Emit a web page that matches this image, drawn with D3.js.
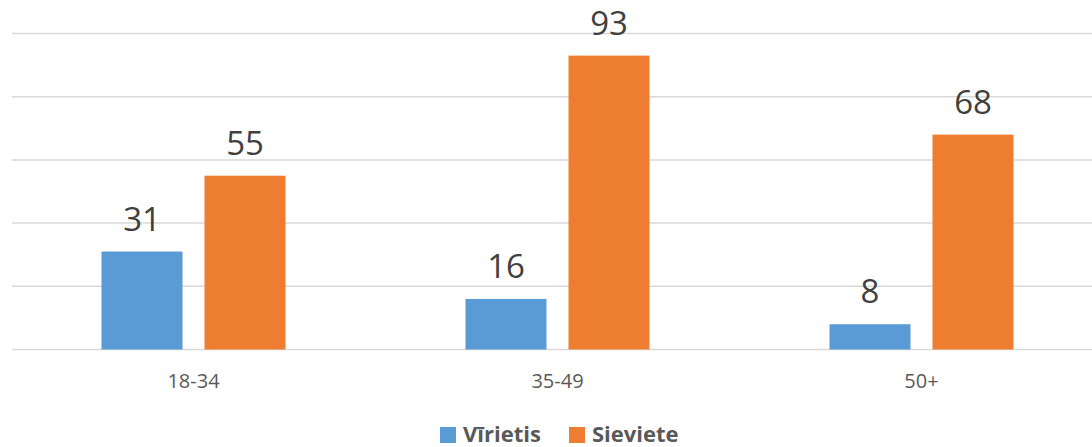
<!DOCTYPE html>
<html><head><meta charset="utf-8">
<script src="https://cdn.jsdelivr.net/npm/d3@7"></script>
<style>body{margin:0;background:#fff}</style>
</head><body>
<script>
const categories = ["18-34", "35-49", "50+"];
const seriesNames = ["Vīrietis", "Sieviete"];
const virietis = [31, 16, 8];
const sieviete = [55, 93, 68];
const yTicks = [0, 20, 40, 60, 80, 100];
const colors = ["#5b9bd5", "#ed7d31"];

const W = 1092, H = 447;
const svg = d3.select("body").append("svg").attr("width", W).attr("height", H)
  .style("font-family", "'Open Sans', sans-serif");

const x0 = d3.scaleBand().domain(categories).range([11.5, 1103.5]).paddingInner(0).paddingOuter(0);
const y = d3.scaleLinear().domain([0, 100]).range([349.5, 33.5]);

svg.append("g").selectAll("line").data(yTicks).join("line")
  .attr("x1", 12).attr("x2", W).attr("y1", d => y(d)).attr("y2", d => y(d))
  .attr("stroke", "#d9d9d9").attr("stroke-width", 1.5);

const data = categories.map((c, i) => ({c, vals: [virietis[i], sieviete[i]]}));
const barW = 81, gap = 22;
const g = svg.append("g").selectAll("g").data(data).join("g");
g.each(function(d) {
  const cx = x0(d.c) + x0.bandwidth() / 2;
  const sel = d3.select(this);
  d.vals.forEach((v, j) => {
    const bx = j === 0 ? cx - gap / 2 - barW : cx + gap / 2;
    sel.append("rect").attr("x", bx).attr("width", barW)
      .attr("y", y(v)).attr("height", y(0) - y(v)).attr("fill", colors[j]);
    sel.append("text").attr("x", bx + barW / 2).attr("y", y(v) - 21)
      .attr("text-anchor", "middle").attr("font-size", 33).attr("fill", "#404040").text(v);
  });
  sel.append("text").attr("x", cx).attr("y", 388).attr("text-anchor", "middle")
    .attr("font-size", 20).attr("fill", "#595959").text(d.c);
});

const legend = svg.append("g");
const legendX = [440, 569];
seriesNames.forEach((n, i) => {
  legend.append("rect").attr("x", legendX[i]).attr("y", 427).attr("width", 16).attr("height", 16).attr("fill", colors[i]);
  legend.append("text").attr("x", legendX[i] + 23).attr("y", 442).attr("font-size", 22)
    .attr("font-weight", "bold").attr("fill", "#595959").text(n);
});
</script>
</body></html>
